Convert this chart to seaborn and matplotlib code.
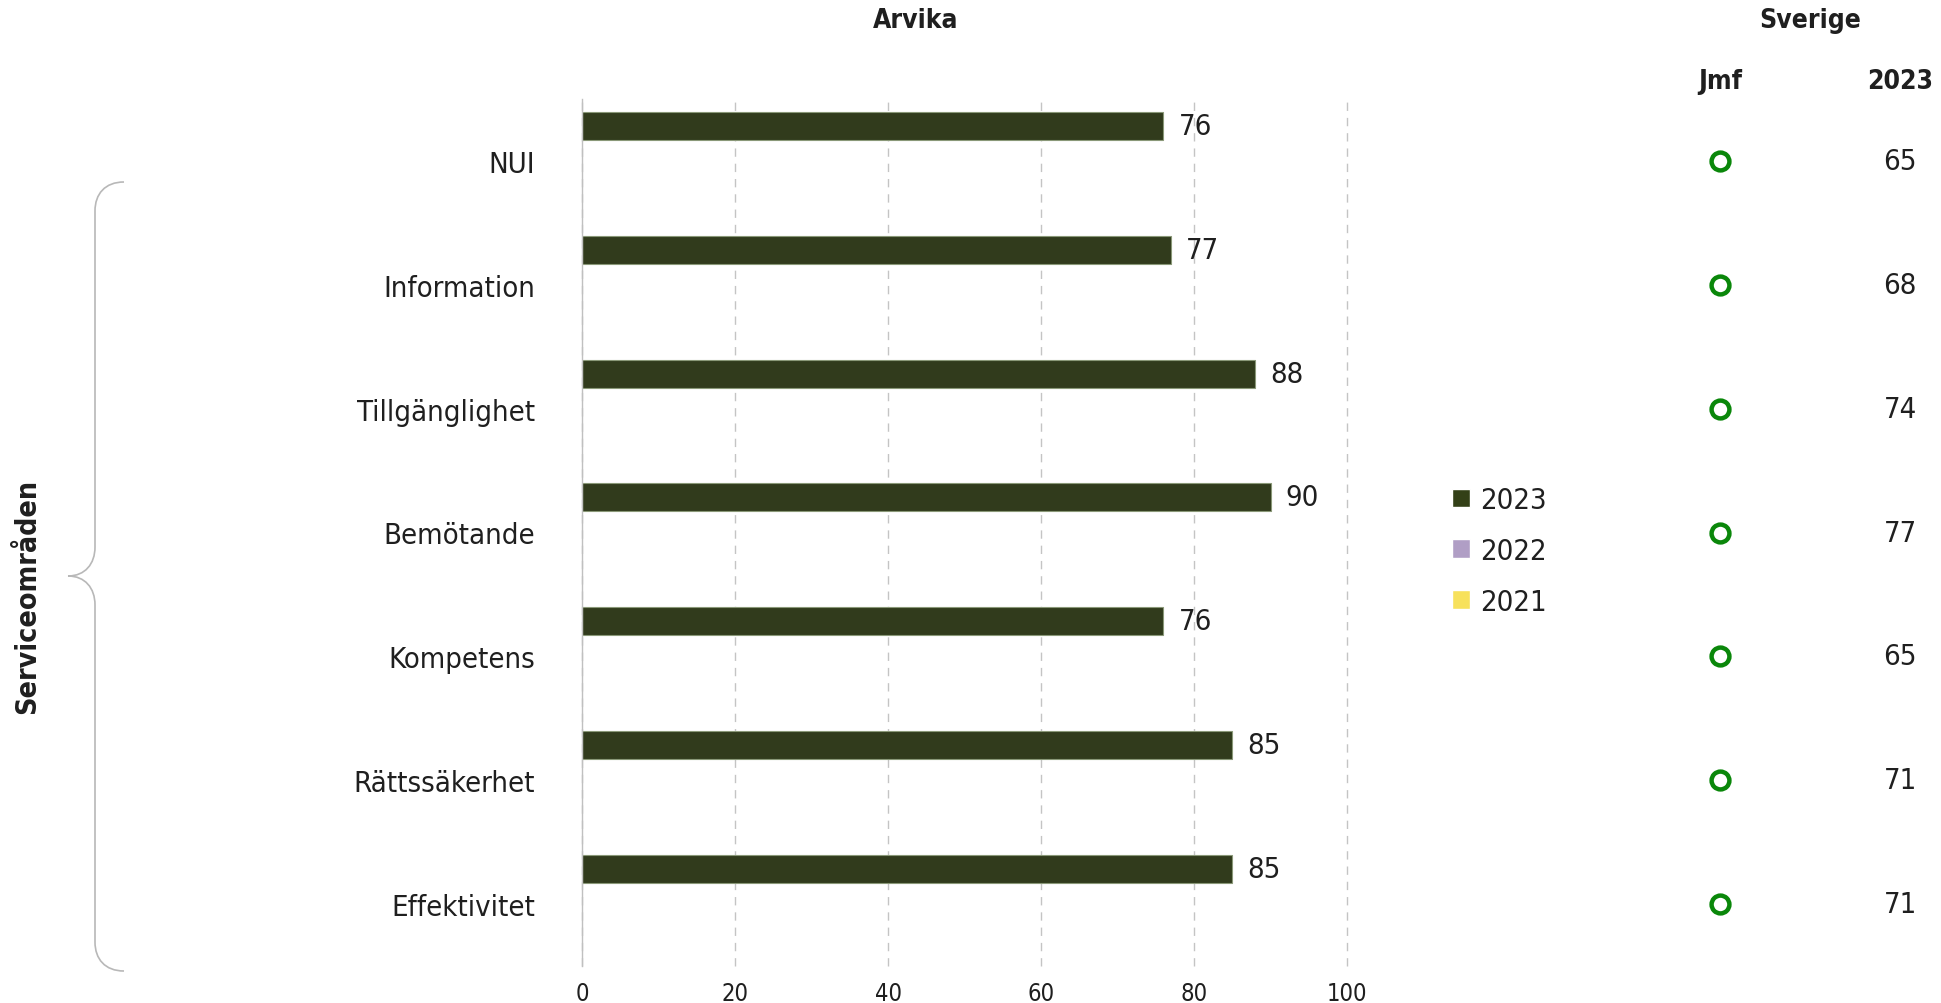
import matplotlib
matplotlib.use("Agg")
import matplotlib.pyplot as plt
from matplotlib.patches import Patch, PathPatch
from matplotlib.path import Path
import seaborn as sns
import pandas as pd
import numpy as np

categories = ["NUI", "Information", "Tillgänglighet", "Bemötande", "Kompetens", "Rättssäkerhet", "Effektivitet"]
years = ["2023", "2022", "2021"]
values_2023 = [76, 77, 88, 90, 76, 85, 85]
values_2022 = [np.nan] * 7
values_2021 = [np.nan] * 7
sverige_2023 = [65, 68, 74, 77, 65, 71, 71]
x_ticks = [0, 20, 40, 60, 80, 100]

colors = {"2023": "#334017", "2022": "#b09ec5", "2021": "#f7e15c"}

rows = []
for yr, vals in zip(years, [values_2023, values_2022, values_2021]):
    for c, v in zip(categories, vals):
        rows.append({"Område": c, "År": yr, "Värde": v})
df = pd.DataFrame(rows)

sns.set_theme(style="white")
plt.rcParams["font.family"] = ["DejaVu Sans"]
plt.rcParams["font.stretch"] = "condensed"
txt = "#1f1f1f"

W, H = 1941, 1004
fig = plt.figure(figsize=(W / 100, H / 100), dpi=100)
top_px, bot_px = 100, 967
left_px, right_px = 582, 1347
ax = fig.add_axes([left_px / W, 1 - bot_px / H, (right_px - left_px) / W, (bot_px - top_px) / H])

sns.barplot(data=df, x="Värde", y="Område", hue="År", order=categories, hue_order=years,
            palette=colors, orient="h", width=0.85, gap=0.2, edgecolor="#8a9878",
            linewidth=0.8, legend=False, ax=ax)

ax.set_xlim(0, 100)
ax.set_ylim(6.5, -0.5)
ax.set_xticks(x_ticks)
ax.set_xticklabels([str(t) for t in x_ticks], fontsize=17, color=txt)
ax.set_yticks(range(len(categories)))
ax.set_yticklabels(categories, fontsize=21, color=txt)
ax.tick_params(axis="x", length=0, pad=11)
ax.tick_params(axis="y", length=0, pad=34)
ax.set_xlabel("")
ax.set_ylabel("")
ax.grid(axis="x", color="#c4c4c4", linestyle=(0, (6, 5)), linewidth=1)
for gl in ax.get_xgridlines():
    gl.set_clip_on(False)
ax.set_axisbelow(True)
for s in ["top", "right", "bottom"]:
    ax.spines[s].set_visible(False)
ax.spines["left"].set_color("#c0c0c0")
ax.spines["left"].set_linewidth(1)

# value labels for the 2023 series
cont = ax.containers[0]
ax.bar_label(cont, labels=[f"{v:.0f}" for v in values_2023], padding=11, fontsize=21, color=txt)

# right-side Sverige columns
ax2 = fig.add_axes([1640 / W, 1 - bot_px / H, (W - 1640) / W, (bot_px - top_px) / H])
ax2.set_xlim(-80 / 180, 301 / 180 - 80 / 180)
ax2.set_ylim(6.5, -0.5)
ax2.axis("off")
sdf = pd.DataFrame({"x": [0] * len(categories), "y": list(range(len(categories)))})
sns.scatterplot(data=sdf, x="x", y="y", marker="o", s=165, facecolor="white",
                edgecolor="#0a870a", linewidth=3.2, ax=ax2, legend=False, zorder=3)
for i, v in enumerate(sverige_2023):
    ax2.text(1.0, i, str(v), ha="center", va="center", fontsize=21, color=txt)

# headers
hfs = 19
fig.text(916 / W, 1 - 21 / H, "Arvika", ha="center", va="center", fontsize=hfs, fontweight="bold", color=txt)
fig.text(1810 / W, 1 - 21 / H, "Sverige", ha="center", va="center", fontsize=hfs, fontweight="bold", color=txt)
fig.text(1720 / W, 1 - 82 / H, "Jmf", ha="center", va="center", fontsize=hfs, fontweight="bold", color=txt)
fig.text(1900 / W, 1 - 82 / H, "2023", ha="center", va="center", fontsize=hfs, fontweight="bold", color=txt)
fig.text(27 / W, 1 - 596 / H, "Serviceområden", ha="center", va="center", rotation=90,
         fontsize=20.5, fontweight="bold", color=txt)

# brace
def P(x, y):
    return (x / W, 1 - y / H)

verts = [P(124, 183), P(105, 183), P(95, 195), P(95, 212),
         P(95, 548),
         P(95, 565), P(85, 577), P(68, 577),
         P(85, 577), P(95, 589), P(95, 606),
         P(95, 943),
         P(95, 960), P(105, 972), P(124, 972)]
codes = [Path.MOVETO, Path.CURVE4, Path.CURVE4, Path.CURVE4,
         Path.LINETO,
         Path.CURVE4, Path.CURVE4, Path.CURVE4,
         Path.CURVE4, Path.CURVE4, Path.CURVE4,
         Path.LINETO,
         Path.CURVE4, Path.CURVE4, Path.CURVE4]
fig.add_artist(PathPatch(Path(verts, codes), transform=fig.transFigure, fill=False,
                         edgecolor="#b8b8b8", linewidth=1.2))

# legend
handles = [Patch(facecolor=colors[y], edgecolor="white", label=y) for y in years]
fig.legend(handles=handles, loc="center left", bbox_to_anchor=(1452 / W, 1 - 552 / H),
           frameon=False, fontsize=21, handlelength=0.6, handleheight=0.6,
           handletextpad=0.35, labelspacing=0.78, borderpad=0, borderaxespad=0,
           labelcolor=txt)

fig.savefig("out.png", dpi=100)
